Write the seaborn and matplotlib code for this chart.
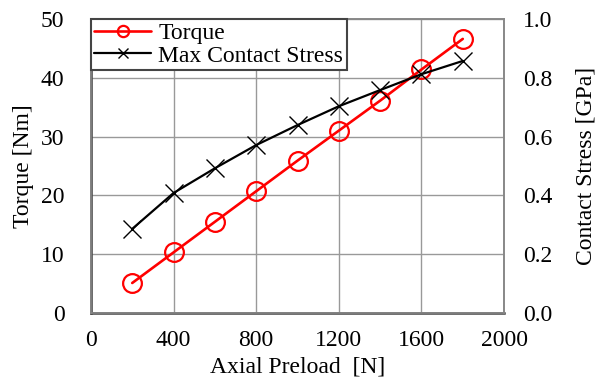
import matplotlib
matplotlib.use("Agg")
import matplotlib.pyplot as plt
import seaborn as sns
import pandas as pd

preload = [200, 400, 600, 800, 1000, 1200, 1400, 1600, 1800]
torque = [5.1, 10.3, 15.5, 20.7, 25.9, 31.0, 36.1, 41.4, 46.6]
stress = [0.286, 0.408, 0.492, 0.571, 0.639, 0.703, 0.758, 0.812, 0.857]
x_ticks = [0, 400, 800, 1200, 1600, 2000]
left_ticks = [0, 10, 20, 30, 40, 50]
right_ticks = [0.0, 0.2, 0.4, 0.6, 0.8, 1.0]

sns.set_theme(style="white")
plt.rcParams['font.family'] = ['Liberation Serif', 'DejaVu Serif']
plt.rcParams['mathtext.fontset'] = 'stix'
plt.rcParams['text.color'] = 'black'
plt.rcParams['axes.labelcolor'] = 'black'

df = pd.DataFrame({"preload": preload, "torque": torque, "stress": stress})

fig = plt.figure(figsize=(5.98, 3.78), dpi=100)
ax = fig.add_axes([0.152, 0.172, 0.691, 0.778])
ax2 = ax.twinx()

fs = 17
sns.lineplot(data=df, x="preload", y="torque", ax=ax, color="#ff0000", lw=1.9,
             marker="o", markersize=13.5, markerfacecolor="none",
             markeredgecolor="#ff0000", markeredgewidth=1.6, label="Torque", legend=False)
sns.lineplot(data=df, x="preload", y="stress", ax=ax2, color="black", lw=1.6,
             marker="x", markersize=13, markeredgewidth=1.0,
             markeredgecolor="black", markerfacecolor="black",
             label="Max Contact Stress", legend=False)

ax.set_xlim(0, 2000)
ax.set_ylim(0, 50)
ax2.set_ylim(0, 1.0)
ax.set_xticks(x_ticks)
ax.set_yticks(left_ticks)
ax2.set_yticks(right_ticks)
ax2.set_yticklabels([f"{v:.1f}" for v in right_ticks])
ax.grid(True, color="#999999", lw=1)
ax.set_axisbelow(True)
ax2.grid(False)

for a in (ax, ax2):
    a.tick_params(labelsize=fs, length=0, colors="black")
    for s in a.spines.values():
        s.set_color("#888888")
        s.set_linewidth(1.2)
ax.tick_params(axis='y', pad=19)
ax.tick_params(axis='x', pad=12)
ax2.tick_params(axis='y', pad=13.5)
ax.spines['left'].set_color("#444444")
ax.spines['bottom'].set_color("#444444")
ax.spines['left'].set_linewidth(1.8)
ax.spines['bottom'].set_linewidth(1.8)

ax.set_xlabel("Axial Preload  [N]", fontsize=fs, labelpad=4)
ax.set_ylabel("Torque [Nm]", fontsize=fs, labelpad=5)
ax2.set_ylabel("Contact Stress [GPa]", fontsize=fs, labelpad=17)

h1, l1 = ax.get_legend_handles_labels()
h2, l2 = ax2.get_legend_handles_labels()
leg = ax2.legend(h1 + h2, l1 + l2, loc="upper left", fontsize=fs, frameon=True,
                 fancybox=False, borderaxespad=0, handlelength=2.4,
                 borderpad=0.15, labelspacing=0.05, handletextpad=0.3,
                 markerscale=0.6)
leg.get_frame().set_edgecolor("#444444")
leg.get_frame().set_linewidth(1.5)
leg.get_frame().set_alpha(1)

fig.savefig("out.png", dpi=100)
